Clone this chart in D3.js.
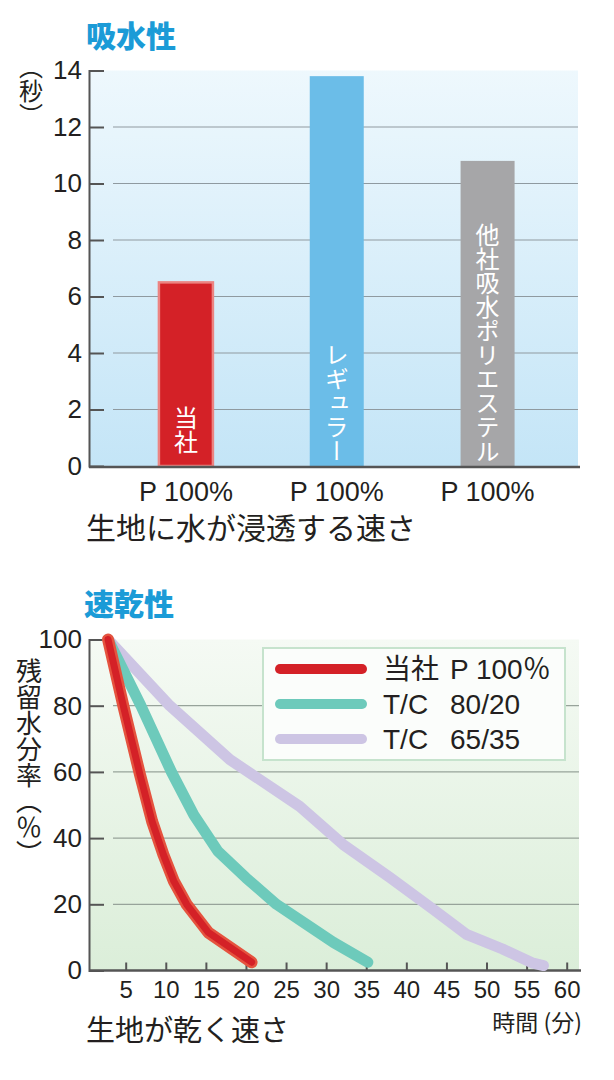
<!DOCTYPE html>
<html>
<head>
<meta charset="utf-8">
<script src="https://cdn.jsdelivr.net/npm/d3@7"></script>
<style>
  body { margin: 0; background: #fff; }
  text { font-family: "Liberation Sans", "Noto Sans CJK JP", sans-serif; fill: #231f20; }
  .jp { font-family: "Noto Sans CJK JP", sans-serif; }
  .vert { writing-mode: vertical-rl; }
</style>
</head>
<body>
<svg id="chart" width="614" height="1080"></svg>
<script>
// absorbency (seconds)
const barNames = ['当社', 'レギュラー', '他社吸水ポリエステル']
const barFibers = ['P 100%', 'P 100%', 'P 100%']
const barSeconds = [6.5, 13.8, 10.8]
const barColors = ['#d42127', '#6bbde8', '#a6a6a8']
const secTicks = [0, 2, 4, 6, 8, 10, 12, 14]

// quick dry (remaining water % over minutes)
const ourMin = [2.8, 4.7, 6.8, 8.3, 9.7, 11, 12.6, 15.3, 20.7]
const ourWater = [100, 80, 59, 45, 35, 27, 20, 11.5, 2.5]
const tc80Min = [2.8, 6.9, 10.7, 13.5, 16.5, 20, 23.8, 27.5, 30.9, 35.2]
const tc80Water = [100, 80, 60, 47, 36, 28, 20, 14, 8.5, 2.5]
const tc65Min = [2.8, 10.5, 18, 26.7, 32.1, 38, 43.4, 47.5, 52, 55.8, 57.1]
const tc65Water = [100, 80, 63.7, 49.6, 38.1, 28, 18.4, 10.9, 6.5, 2.2, 1.5]
const legendNames = ['当社', 'T/C', 'T/C']
const legendBlends = ['P 100％', '80/20', '65/35']
const lineColors = ['#d42127', '#6dcabb', '#cdc5e4']
const pctTicks = [0, 20, 40, 60, 80, 100]
const minTicks = [5, 10, 15, 20, 25, 30, 35, 40, 45, 50, 55, 60]

const svg = d3.select('#chart')
const defs = svg.append('defs')

function grad(id, top, bottom) {
  const g = defs.append('linearGradient').attr('id', id)
    .attr('x1', 0).attr('y1', 0).attr('x2', 0).attr('y2', 1)
  g.append('stop').attr('offset', '0%').attr('stop-color', top)
  g.append('stop').attr('offset', '100%').attr('stop-color', bottom)
}
grad('blueBg', '#eef8fd', '#c4e5f7')
grad('greenBg', '#f5faf4', '#dbeed9')

// ---------- top chart ----------
const left = 89, right = 578
const y1 = d3.scaleLinear().domain([0, 14]).range([466, 70.5])
const x1 = d3.scaleBand().domain(barNames).range([110.5, 563])
const barW = 54

svg.append('text').attr('class', 'jp').attr('x', 86).attr('y', 47)
  .style('font-size', '30px').style('font-weight', 900).style('fill', '#1b9bd7')
  .text('吸水性')

svg.append('rect').attr('x', left).attr('y', y1(14)).attr('width', right - left)
  .attr('height', y1(0) - y1(14)).attr('fill', 'url(#blueBg)')

svg.append('g').selectAll('line').data(secTicks.filter(d => d > 0 && d < 14)).join('line')
  .attr('x1', 113).attr('x2', right).attr('y1', d => y1(d)).attr('y2', d => y1(d))
  .attr('stroke', '#8f9aa0').attr('stroke-width', 1.2)

const yAxis1 = svg.append('g').attr('transform', `translate(${left},0)`)
  .call(d3.axisLeft(y1).tickValues(secTicks).tickSize(-15).tickSizeOuter(-15).tickPadding(7))
yAxis1.attr('font-size', 26)
yAxis1.select('.domain').attr('stroke', '#555').attr('stroke-width', 2)
yAxis1.selectAll('.tick line').attr('stroke', '#555').attr('stroke-width', 2)
yAxis1.selectAll('.tick text').attr('fill', '#231f20')
yAxis1.selectAll('.tick').filter(d => d === 0).select('line').remove()

svg.append('text').attr('class', 'jp vert').attr('x', 31).attr('y', 91)
  .attr('text-anchor', 'middle').style('font-size', '24px').text('（秒）')

svg.append('g').selectAll('rect').data(barNames).join('rect')
  .attr('x', d => x1(d) + x1.bandwidth() / 2 - barW / 2)
  .attr('width', barW)
  .attr('y', (d, i) => y1(barSeconds[i]))
  .attr('height', (d, i) => y1(0) - y1(barSeconds[i]))
  .attr('fill', (d, i) => barColors[i])
  .attr('stroke', (d, i) => i === 0 ? '#ec8482' : 'none')
  .attr('stroke-width', 2.5)

svg.append('g').selectAll('text').data(barNames).join('text')
  .attr('class', 'jp vert')
  .attr('x', d => x1(d) + x1.bandwidth() / 2)
  .attr('y', (d, i) => i === 0 ? 454 : 463)
  .attr('text-anchor', 'end')
  .style('font-size', '24px').style('fill', '#fff')
  .text(d => d)

svg.append('line').attr('x1', left).attr('x2', right + 2).attr('y1', y1(0) + 1).attr('y2', y1(0) + 1)
  .attr('stroke', '#555').attr('stroke-width', 2.5)

svg.append('g').selectAll('text').data(barNames).join('text')
  .attr('x', d => x1(d) + x1.bandwidth() / 2).attr('y', 501)
  .attr('text-anchor', 'middle').style('font-size', '27px')
  .text((d, i) => barFibers[i])

svg.append('text').attr('class', 'jp').attr('x', 86).attr('y', 539)
  .style('font-size', '30px').text('生地に水が浸透する速さ')

// ---------- bottom chart ----------
const x2 = d3.scaleLinear().domain([0, 60]).range([85.6, 566.7])
const y2 = d3.scaleLinear().domain([0, 100]).range([970.5, 639.5])
const right2 = 579

svg.append('text').attr('class', 'jp').attr('x', 84).attr('y', 615)
  .style('font-size', '30px').style('font-weight', 900).style('fill', '#1b9bd7')
  .text('速乾性')

svg.append('rect').attr('x', left).attr('y', y2(100)).attr('width', right2 - left)
  .attr('height', y2(0) - y2(100)).attr('fill', 'url(#greenBg)')

svg.append('g').selectAll('line').data(pctTicks.filter(d => d > 0 && d < 100)).join('line')
  .attr('x1', 113).attr('x2', right2).attr('y1', d => y2(d)).attr('y2', d => y2(d))
  .attr('stroke', '#97a39a').attr('stroke-width', 1.2)

const yAxis2 = svg.append('g').attr('transform', `translate(${left},0)`)
  .call(d3.axisLeft(y2).tickValues(pctTicks).tickSize(-15).tickSizeOuter(-15).tickPadding(7))
yAxis2.attr('font-size', 26)
yAxis2.select('.domain').attr('stroke', '#555').attr('stroke-width', 2)
yAxis2.selectAll('.tick line').attr('stroke', '#555').attr('stroke-width', 2)
yAxis2.selectAll('.tick text').attr('fill', '#231f20')
yAxis2.selectAll('.tick').filter(d => d === 0).select('line').remove()

const xAxis2 = svg.append('g').attr('transform', `translate(0,${y2(0)})`)
  .call(d3.axisBottom(x2).tickValues(minTicks).tickSize(-8).tickSizeOuter(0).tickPadding(10))
xAxis2.attr('font-size', 24)
xAxis2.select('.domain').attr('d', `M${left},0H${right2 + 2}`).attr('stroke', '#555').attr('stroke-width', 2.5)
xAxis2.selectAll('.tick line').attr('stroke', '#555').attr('stroke-width', 2)
xAxis2.selectAll('.tick text').attr('fill', '#231f20')

svg.append('text').attr('class', 'jp vert').attr('x', 29).attr('y', 658)
  .style('font-size', '26px').text('残留水分率（％）')

// legend
svg.append('rect').attr('x', 263).attr('y', 648).attr('width', 302).attr('height', 112)
  .attr('fill', '#fbfdfb').attr('stroke', '#c6e3cd').attr('stroke-width', 2)
const leg = svg.append('g').selectAll('g').data(legendNames).join('g')
  .attr('transform', (d, i) => `translate(0,${669 + i * 35})`)
leg.append('line').attr('x1', 280).attr('x2', 362)
  .attr('stroke', (d, i) => lineColors[i]).attr('stroke-width', 10).attr('stroke-linecap', 'round')
leg.append('text').attr('x', 383).attr('y', 10).style('font-size', '28px').text(d => d)
leg.append('text').attr('x', 450).attr('y', 10).style('font-size', '28px').text((d, i) => legendBlends[i])

const line = d3.line().x(d => x2(d[0])).y(d => y2(d[1]))
const series = [
  [tc65Min, tc65Water, lineColors[2]],
  [tc80Min, tc80Water, lineColors[1]],
]
series.forEach(s => {
  svg.append('path').datum(s[0].map((m, i) => [m, s[1][i]]))
    .attr('d', line).attr('fill', 'none').attr('stroke', s[2])
    .attr('stroke-width', 11).attr('stroke-linecap', 'round').attr('stroke-linejoin', 'round')
})
const ours = ourMin.map((m, i) => [m, ourWater[i]])
svg.append('path').datum(ours).attr('d', line).attr('fill', 'none')
  .attr('stroke', '#e5533f').attr('stroke-width', 12)
  .attr('stroke-linecap', 'round').attr('stroke-linejoin', 'round')
svg.append('path').datum(ours).attr('d', line).attr('fill', 'none')
  .attr('stroke', lineColors[0]).attr('stroke-width', 7)
  .attr('stroke-linecap', 'round').attr('stroke-linejoin', 'round')

svg.append('text').attr('class', 'jp').attr('x', 582).attr('y', 1031)
  .attr('text-anchor', 'end').style('font-size', '23px').text('時間 (分)')

svg.append('text').attr('class', 'jp').attr('x', 86).attr('y', 1041)
  .style('font-size', '29px').text('生地が乾く速さ')
</script>
</body>
</html>
